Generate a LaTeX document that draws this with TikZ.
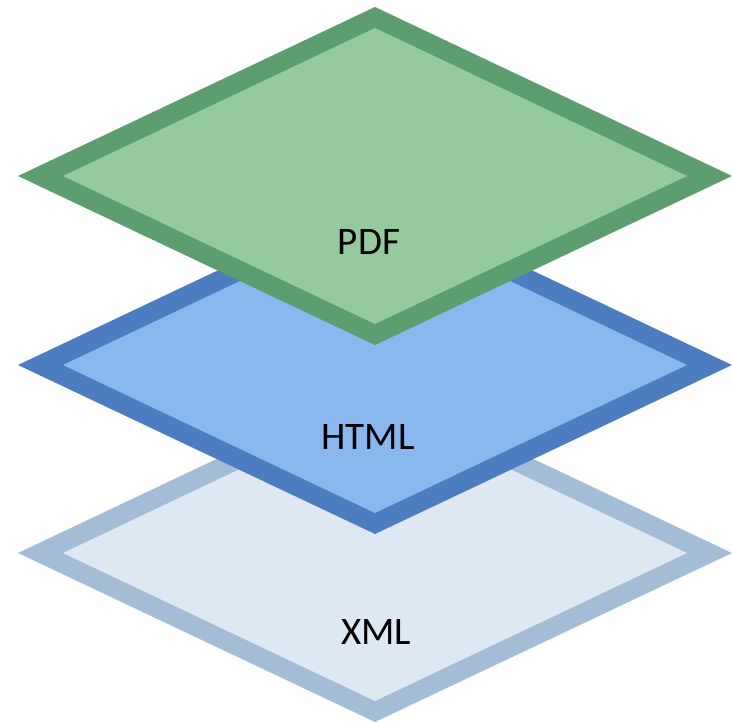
\documentclass[tikz,border=0pt]{standalone}
\usepackage{fontspec}
\setmainfont{Carlito}
\definecolor{gB}{HTML}{5C9E70}
\definecolor{gF}{HTML}{95CB9C}
\definecolor{bB}{HTML}{4B7DC0}
\definecolor{bF}{HTML}{89B7EE}
\definecolor{xB}{HTML}{A3BDD7}
\definecolor{xF}{HTML}{DDE8F3}
\tikzset{lbl/.style={font=\fontsize{39}{47}\selectfont, text=black, inner sep=0pt}}
\newcommand{\layer}[3]{%
  \fill[#2] (375,#1-169) -- (732,#1) -- (375,#1+169) -- (18,#1) -- cycle;
  \fill[#3] (375,#1-148) -- (687,#1) -- (375,#1+148) -- (63,#1) -- cycle;}
\begin{document}
\begin{tikzpicture}[x=1pt,y=-1pt]
\useasboundingbox (0,0) rectangle (732,722);
\layer{553}{xB}{xF}
\layer{365}{bB}{bF}
\layer{176}{gB}{gF}
\node[lbl] (xml) at (376,632) {XML};
\node[lbl] (html) at (368,437) {HTML};
\node[lbl] (pdf) at (369,242) {PDF};
\end{tikzpicture}
\end{document}
